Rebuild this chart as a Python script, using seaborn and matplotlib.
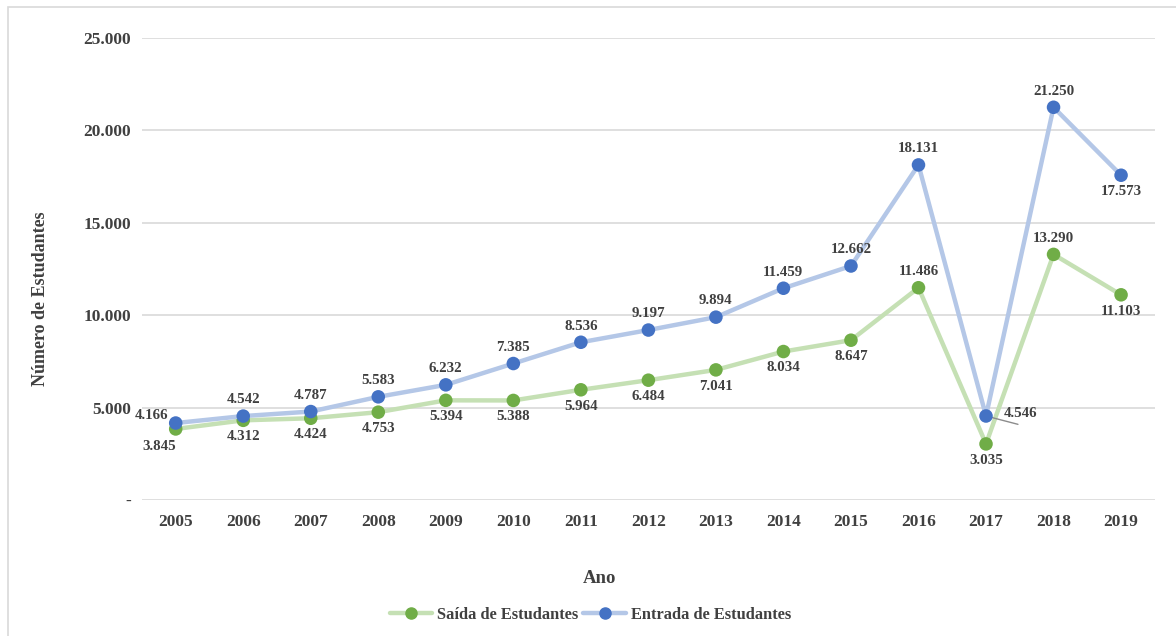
import matplotlib
matplotlib.use("Agg")
import matplotlib.pyplot as plt
from matplotlib.lines import Line2D
from matplotlib.patches import Rectangle
import seaborn as sns
import pandas as pd

years = ["2005", "2006", "2007", "2008", "2009", "2010", "2011", "2012",
         "2013", "2014", "2015", "2016", "2017", "2018", "2019"]
saida = [3845, 4312, 4424, 4753, 5394, 5388, 5964, 6484,
         7041, 8034, 8647, 11486, 3035, 13290, 11103]
entrada = [4166, 4542, 4787, 5583, 6232, 7385, 8536, 9197,
           9894, 11459, 12662, 18131, 4546, 21250, 17573]
series_names = ["Saída de Estudantes", "Entrada de Estudantes"]
y_ticks = [0, 5000, 10000, 15000, 20000, 25000]

# label placement per point: (dx, dy) offsets in points
entrada_pos = [(-18, 3), (0, 1), (0, 1), (0, 1), (0, 1), (0, 1), (0, 1), (0, 1),
               (0, 1), (0, 1), (0, 1), (0, 1), None, (0, 1), (0, -1)]
saida_pos = [(-1, -1), (0, -1), (0, -1), (0, -1), (0, -1), (0, -1), (0, -1), (0, -1),
             (0, -1), (0, -1), (0, -1), (0, 1), (0, -1), (0, 1), (0, -1)]

sns.set_theme(style="white")
plt.rcParams["font.family"] = ["Liberation Serif", "DejaVu Serif"]
plt.rcParams["font.weight"] = "bold"

TXT = "#404040"
LBL = 10.8
LINE_COLORS = {"Saída de Estudantes": "#C5E0B4", "Entrada de Estudantes": "#B4C7E7"}
MARK_COLORS = {"Saída de Estudantes": "#70AD47", "Entrada de Estudantes": "#4472C4"}

df = pd.DataFrame({
    "Ano": years * 2,
    "Valor": saida + entrada,
    "Serie": [series_names[0]] * len(years) + [series_names[1]] * len(years),
})
df["x"] = list(range(len(years))) * 2

fig = plt.figure(figsize=(11.76, 6.36), dpi=100)
ax = fig.add_axes([0.1207, 0.2138, 0.8613, 0.7265])

# figure frame
fig.patches.append(Rectangle((8 / 1176, -0.01), 1.02, 1 - 7 / 636 + 0.01,
                             transform=fig.transFigure, fill=False,
                             edgecolor="#D9D9D9", linewidth=1.2))

for name in series_names:
    sub = df[df["Serie"] == name]
    front = name == series_names[1]
    sns.lineplot(data=sub, x="x", y="Valor", ax=ax, color=LINE_COLORS[name],
                 linewidth=3.2, legend=False, zorder=4 if front else 2)
    sns.scatterplot(data=sub, x="x", y="Valor", ax=ax, color=MARK_COLORS[name],
                    s=95, edgecolor="none", legend=False, zorder=5 if front else 3)

ax.set_xlim(-0.5, len(years) - 0.5)
ax.set_ylim(0, 25000)
ax.set_xticks(range(len(years)))
ax.set_xticklabels(years)
ax.set_yticks(y_ticks)
ax.set_yticklabels(["-" if v == 0 else f"{v:,}".replace(",", ".") for v in y_ticks])
for s in ax.spines.values():
    s.set_visible(False)
ax.grid(axis="y", color="#D9D9D9", linewidth=1.2)
ax.grid(axis="x", visible=False)
ax.set_axisbelow(True)
ax.tick_params(axis="both", length=0, labelsize=12.5, colors=TXT)
ax.tick_params(axis="x", pad=10)
ax.tick_params(axis="y", pad=8)

ax.set_xlabel("Ano", fontsize=13.5, color=TXT, fontweight="bold")
ax.xaxis.set_label_coords(0.452, -0.152)
ax.set_ylabel("Número de Estudantes", fontsize=13, color=TXT, fontweight="bold")
ax.yaxis.set_label_coords(-0.092, 0.435)


def fmt(v):
    return f"{v:,}".replace(",", ".")


def put_label(i, v, pos):
    dx, dy = pos
    va = "bottom" if dy > 0 else "top"
    ax.annotate(fmt(v), (i, v), xytext=(dx, 7 * dy), textcoords="offset points",
                ha="center", va=va, fontsize=LBL, color=TXT, fontweight="bold", zorder=6)


for i, v in enumerate(saida):
    if i == 0:
        ax.annotate(fmt(v), (i, v), xytext=(-12, -8), textcoords="offset points",
                    ha="center", va="top", fontsize=LBL, color=TXT, fontweight="bold")
    else:
        put_label(i, v, saida_pos[i])

for i, v in enumerate(entrada):
    pos = entrada_pos[i]
    if pos is None:
        # label pulled to the right, with a short leader line
        ax.annotate("", (i, v), xytext=(23, -6), textcoords="offset points",
                    arrowprops=dict(arrowstyle="-", color="#8C8C8C", lw=1,
                                    shrinkA=0, shrinkB=0), zorder=4.5)
        ax.annotate(fmt(v), (i, v), xytext=(12.5, 1.8), textcoords="offset points",
                    ha="left", va="center", fontsize=LBL, color=TXT, fontweight="bold",
                    zorder=6)
    elif i == 0:
        ax.annotate(fmt(v), (i, v), xytext=(-5, 1), textcoords="offset points",
                    ha="right", va="bottom", fontsize=LBL, color=TXT, fontweight="bold")
    else:
        put_label(i, v, pos)

handles = [
    Line2D([0], [0], color=LINE_COLORS[n], lw=3.2, marker="o", markersize=8,
           markerfacecolor=MARK_COLORS[n], markeredgecolor=MARK_COLORS[n])
    for n in series_names
]
fig.legend(handles, series_names, loc="center", bbox_to_anchor=(0.502, 0.033),
           ncol=2, frameon=False, labelcolor=TXT,
           handlelength=2.6, handletextpad=0.3, columnspacing=0.3,
           prop={"weight": "bold", "size": 11.8})

fig.savefig("out.png", dpi=100)
